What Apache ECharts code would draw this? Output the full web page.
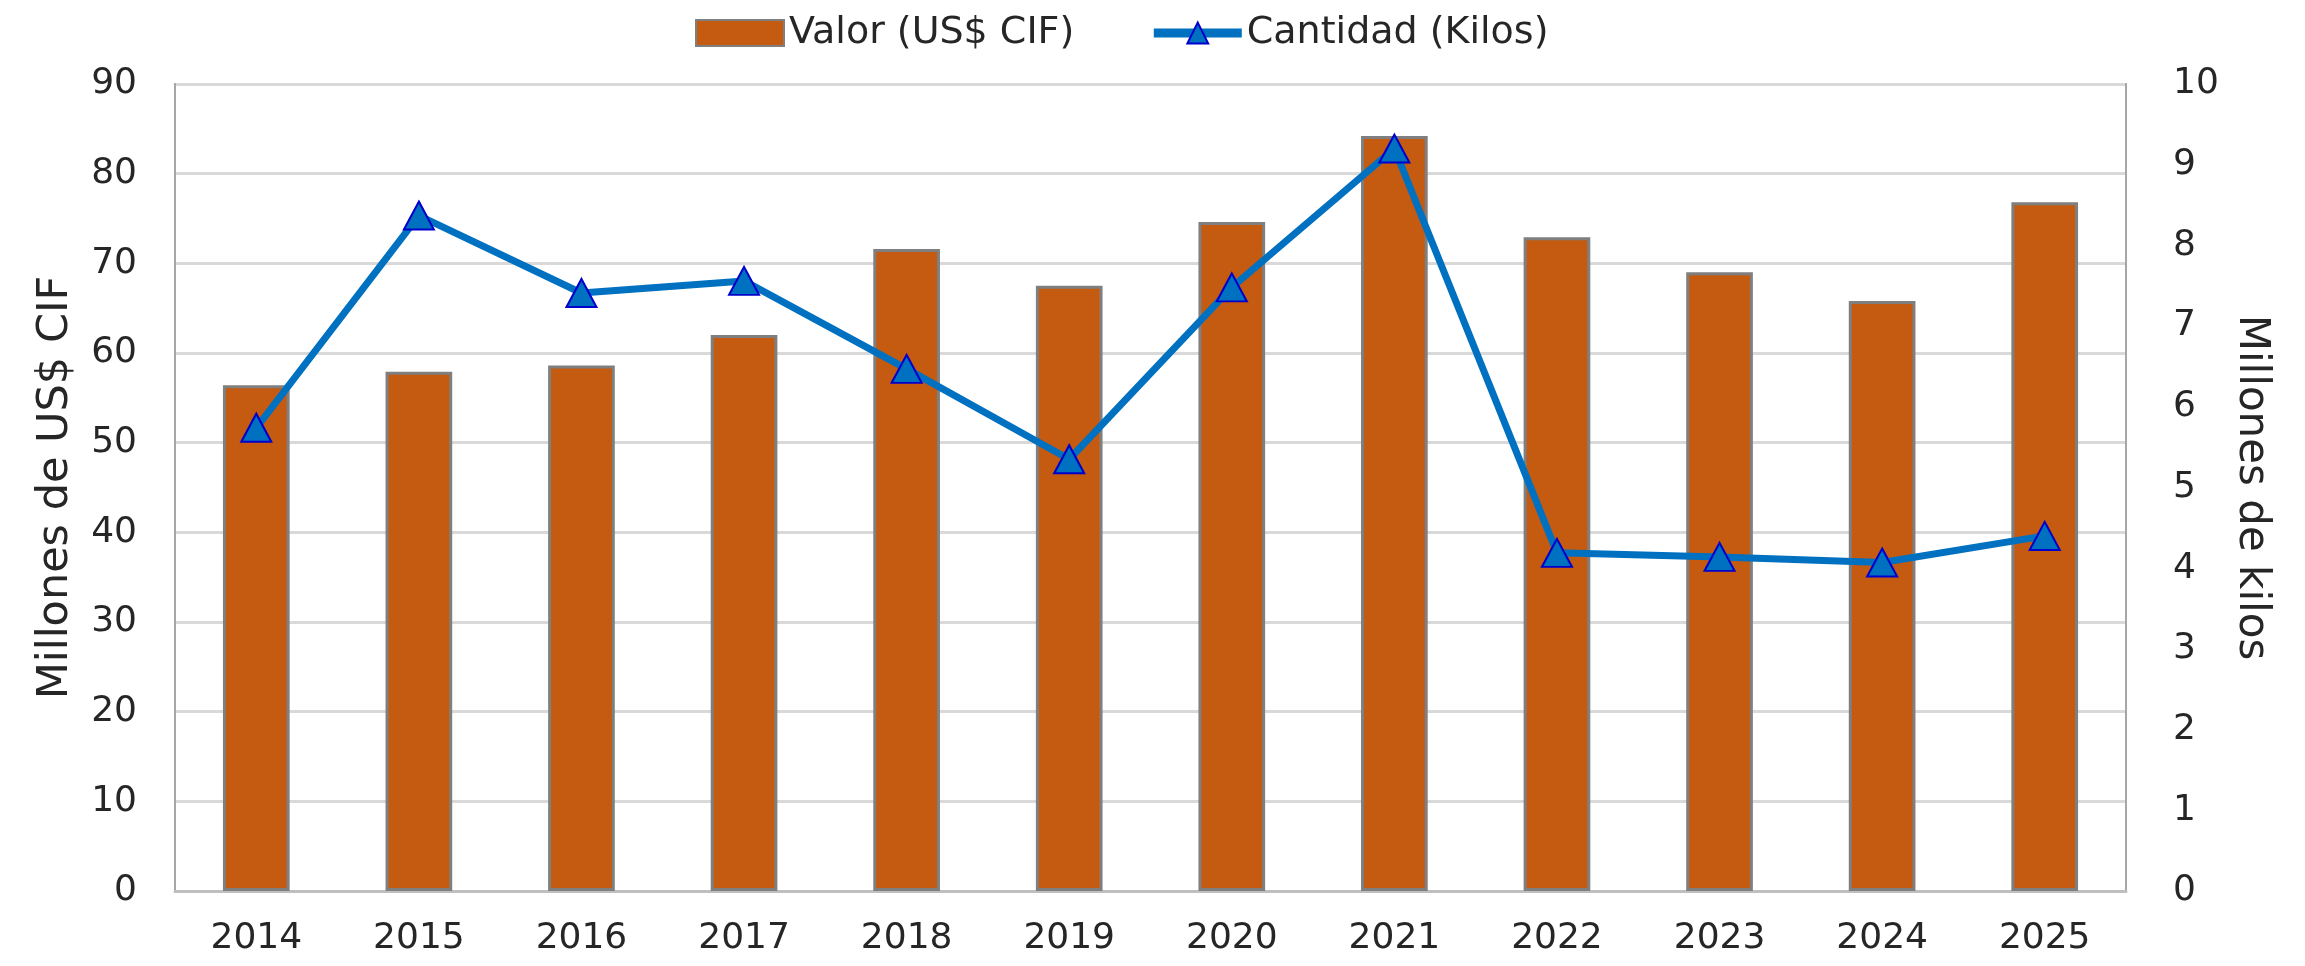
<!DOCTYPE html>
<html>
<head>
    <meta charset="utf-8">
    <title>Valor y cantidad</title>
    <script src="https://cdn.jsdelivr.net/npm/echarts@6/dist/echarts.min.js"></script>
    <style>
        html, body { margin: 0; padding: 0; background: #fff; }
        #main { width: 2305px; height: 966px; }
    </style>
</head>
<body>
    <div id="main"></div>
<script type="text/javascript">
    // datos
    var years = ['2014', '2015', '2016', '2017', '2018', '2019', '2020', '2021', '2022', '2023', '2024', '2025'];
    var valor = [56.4, 57.9, 58.6, 62.0, 71.6, 67.5, 74.6, 84.2, 72.9, 69.0, 65.8, 76.8];   // millones US$ CIF
    var cantidad = [5.74, 8.37, 7.41, 7.56, 6.47, 5.35, 7.48, 9.2, 4.19, 4.14, 4.07, 4.40]; // millones de kilos

    var fuente = 'DejaVu Sans';
    var texto = '#262626';

    var myChart = echarts.init(document.getElementById('main'));
    var option = {
        animation: false,
        textStyle: { fontFamily: fuente },
        legend: {
            top: 9,
            left: 690,
            itemWidth: 88,
            itemHeight: 26,
            itemGap: 75,
            textStyle: { fontFamily: fuente, fontSize: 38, color: texto },
            data: [
                { name: 'Valor (US$ CIF)', icon: 'rect' },
                { name: 'Cantidad (Kilos)', lineStyle: { width: 9 } }
            ]
        },
        grid: {
            left: 175,
            right: 179,
            top: 84,
            bottom: 75,
            show: true,
            borderColor: '#a6a6a6',
            borderWidth: 2
        },
        xAxis: {
            type: 'category',
            data: years,
            axisLine: { show: true, lineStyle: { color: '#bfbfbf', width: 3 } },
            axisTick: { show: false },
            axisLabel: { margin: 30, fontSize: 36, color: texto, fontFamily: fuente }
        },
        yAxis: [
            {
                type: 'value',
                min: 0,
                max: 90,
                interval: 10,
                name: 'Millones de US$ CIF',
                nameLocation: 'middle',
                nameRotate: 90,
                nameGap: 98,
                nameTextStyle: { fontSize: 43, color: texto, fontFamily: fuente },
                axisLine: { show: true, lineStyle: { color: '#a6a6a6', width: 2 } },
                axisTick: { show: false },
                axisLabel: { margin: 38, fontSize: 36, color: texto, fontFamily: fuente },
                splitLine: { lineStyle: { color: '#d9d9d9', width: 3 } }
            },
            {
                type: 'value',
                min: 0,
                max: 10,
                interval: 1,
                position: 'right',
                name: 'Millones de kilos',
                nameLocation: 'middle',
                nameRotate: -90,
                nameGap: 94,
                nameTextStyle: { fontSize: 42, color: texto, fontFamily: fuente },
                axisLine: { show: true, lineStyle: { color: '#a6a6a6', width: 2 } },
                axisTick: { show: false },
                axisLabel: { margin: 47, fontSize: 36, color: texto, fontFamily: fuente },
                splitLine: { show: false }
            }
        ],
        series: [
            {
                name: 'Valor (US$ CIF)',
                type: 'bar',
                data: valor,
                barWidth: '41%',
                itemStyle: { color: '#C55A11', borderColor: '#7f7f7f', borderWidth: 3 }
            },
            {
                name: 'Cantidad (Kilos)',
                type: 'line',
                yAxisIndex: 1,
                data: cantidad,
                symbol: 'triangle',
                symbolSize: [30, 28],
                lineStyle: { color: '#0070C0', width: 7 },
                itemStyle: { color: '#0070C0', borderColor: '#0000CC', borderWidth: 2 }
            }
        ]
    };
    myChart.setOption(option);
</script>
</body>
</html>
